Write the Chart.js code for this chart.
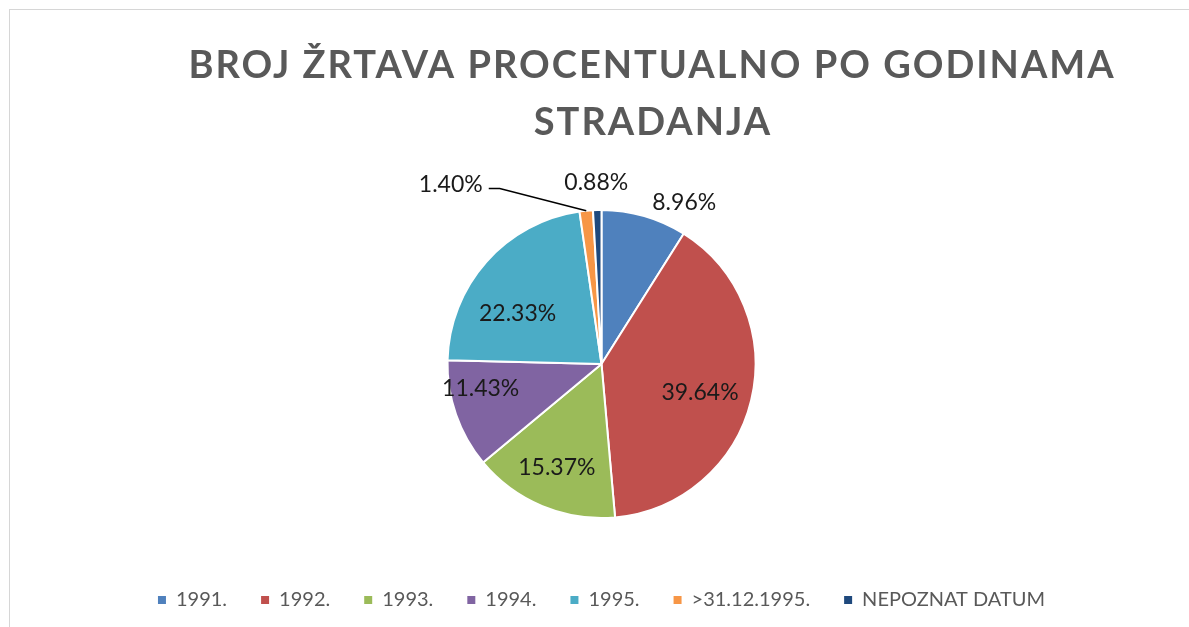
<!DOCTYPE html>
<html>
<head>
<meta charset="utf-8">
<script src="https://cdn.jsdelivr.net/npm/chart.js@4.4.1/dist/chart.umd.min.js"></script>
<style>
  html, body { margin: 0; padding: 0; background: #fff; overflow: hidden; }
  #wrap { position: relative; width: 1189px; height: 627px; }
  #frame { position: absolute; left: 9px; top: 9px; width: 1200px; height: 640px; border: 1px solid #d6d6d6; }
  #pie { position: absolute; left: 0; top: 0; }
</style>
</head>
<body>
<div id="wrap">
  <div id="frame"></div>
  <canvas id="pie" width="1189" height="627"></canvas>
</div>
<script>
// podaci sa grafikona
const categories = ['1991.', '1992.', '1993.', '1994.', '1995.', '>31.12.1995.', 'NEPOZNAT DATUM'];
const shares = [8.96, 39.64, 15.37, 11.43, 22.33, 1.40, 0.88];
const sliceColors = ['#4F81BD', '#C0504D', '#9BBB59', '#8064A2', '#4BACC6', '#F79646', '#1F497D'];
const titleLines = ['BROJ ŽRTAVA PROCENTUALNO PO GODINAMA', 'STRADANJA'];

const FONT = 'Lato';

// naslov (centriran malo desno od pite, kao u originalu)
const titlePlugin = {
    id: 'titleText',
    afterDraw(chart) {
        const ctx = chart.ctx;
        ctx.save();
        ctx.fillStyle = '#595959';
        ctx.font = `bold 38px ${FONT}`;
        ctx.letterSpacing = '2px';
        ctx.textAlign = 'center';
        ctx.textBaseline = 'alphabetic';
        ctx.fillText(titleLines[0], 652, 78);
        ctx.fillText(titleLines[1], 653, 135);
        ctx.restore();
    }
};

// oznake postotaka na kriskama
const inside = { 1: [0.665, 2.3], 2: [0.73, 0.8], 3: [0.80, 7.9], 4: [0.64, -10] };
const labelPlugin = {
    id: 'sliceLabels',
    afterDatasetsDraw(chart) {
        const ctx = chart.ctx;
        const arcs = chart.getDatasetMeta(0).data;
        const size = 23;
        const half = size * 0.36;
        ctx.save();
        ctx.font = `${size}px ${FONT}`;
        ctx.fillStyle = '#1a1a1a';
        ctx.textBaseline = 'alphabetic';
        arcs.forEach((arc, i) => {
            const p = arc.getProps(['x', 'y', 'startAngle', 'endAngle', 'outerRadius'], true);
            const mid = (p.startAngle + p.endAngle) / 2;
            const r = p.outerRadius;
            const ex = p.x + Math.cos(mid) * r;
            const ey = p.y + Math.sin(mid) * r;
            const txt = shares[i].toFixed(2) + '%';
            if (inside[i]) {
                const [f, nudge] = inside[i];
                const a = mid + nudge * Math.PI / 180;
                ctx.textAlign = 'center';
                ctx.fillText(txt, p.x + Math.cos(a) * r * f, p.y + Math.sin(a) * r * f + half);
            } else if (i === 0) {
                ctx.textAlign = 'left';
                ctx.fillText(txt, ex + 8, ey - 14 + half);
            } else if (i === 6) {
                ctx.textAlign = 'center';
                ctx.fillText(txt, ex - 1, ey - 28 + half);
            } else if (i === 5) {
                ctx.strokeStyle = '#000';
                ctx.lineWidth = 1.5;
                ctx.beginPath();
                ctx.moveTo(ex, ey);
                ctx.lineTo(ex - 86.5, ey - 22.2);
                ctx.lineTo(ex - 97.5, ey - 22.2);
                ctx.stroke();
                ctx.textAlign = 'right';
                ctx.fillText(txt, ex - 103.5, ey - 26.7 + half);
            }
        });
        ctx.restore();
    }
};

function draw() {
    const ctx = document.getElementById('pie').getContext('2d');
    new Chart(ctx, {
        type: 'pie',
        data: {
            labels: categories,
            datasets: [{
                data: shares,
                backgroundColor: sliceColors,
                borderColor: '#ffffff',
                borderWidth: 2,
                radius: 154
            }]
        },
        options: {
            responsive: false,
            animation: false,
            devicePixelRatio: 1,
            layout: { padding: { top: 172, bottom: 7, left: 24, right: 10 } },
            plugins: {
                tooltip: { enabled: false },
                legend: {
                    position: 'bottom',
                    labels: {
                        color: '#595959',
                        font: { family: FONT, size: 20 },
                        boxWidth: 8,
                        boxHeight: 8,
                        padding: 34,
                        generateLabels: (chart) =>
                            Chart.overrides.pie.plugins.legend.labels.generateLabels(chart)
                                .map(l => ({ ...l, lineWidth: 0, strokeStyle: l.fillStyle }))
                    }
                }
            }
        },
        plugins: [titlePlugin, labelPlugin]
    });
}

if (document.fonts && document.fonts.load) {
    Promise.all([document.fonts.load(`20px ${FONT}`), document.fonts.load(`bold 38px ${FONT}`)])
        .then(draw, draw);
} else {
    draw();
}
</script>
</body>
</html>
